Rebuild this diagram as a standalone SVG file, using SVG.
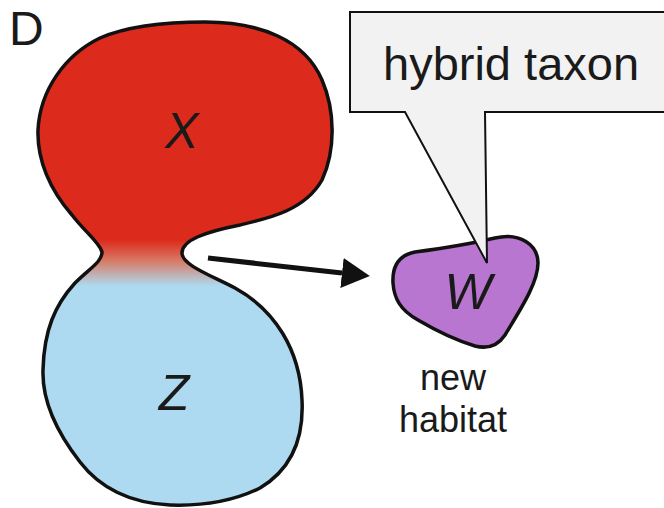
<svg xmlns="http://www.w3.org/2000/svg" width="664" height="508" viewBox="0 0 664 508">
<style>
.outline{stroke:#111;stroke-width:3.5;stroke-linejoin:round}
.lbl{font-family:"Liberation Sans",Arial,sans-serif;fill:#1a1a1a}
.it{font-style:italic;font-size:50px;text-anchor:middle}
</style>
<defs>
<linearGradient id="xz" gradientUnits="userSpaceOnUse" x1="0" y1="240" x2="0" y2="286">
<stop offset="0" stop-color="#DC2A1C"/>
<stop offset="0.45" stop-color="#D77A65"/>
<stop offset="0.8" stop-color="#BDB8BE"/>
<stop offset="1" stop-color="#ADDAF0"/>
</linearGradient>
<marker id="ah" markerUnits="userSpaceOnUse" markerWidth="30" markerHeight="32" viewBox="0 -16 30 32" refX="0" refY="0" orient="auto">
<path d="M0,-15 L28,0 L0,15 Z" fill="#111"/>
</marker>
</defs>
<text class="lbl" x="9" y="45" font-size="48">D</text>
<g id="node-xz">
<path class="outline" fill="url(#xz)" d="M 102 252 C 100 243, 85 232, 72 215 C 50 190, 37 160, 38 130 C 40 90, 65 55, 100 38 C 130 25, 170 22, 205 22 C 260 22, 305 40, 322 80 C 335 110, 336 150, 322 180 C 305 210, 270 218, 240 225 C 205 232, 182 240, 182 253 C 182 265, 210 275, 235 288 C 275 310, 300 350, 302 400 C 304 440, 290 470, 260 488 C 230 503, 200 506, 170 505 C 130 503, 100 488, 80 462 C 55 430, 42 400, 43 370 C 44 330, 55 305, 75 283 C 90 268, 102 262, 102 252 Z"/>
<text class="lbl it" x="182" y="148">X</text>
<text class="lbl it" x="174" y="410">Z</text>
</g>
<g id="node-w">
<path class="outline" fill="#B876D0" d="M 393 283 C 392 265, 400 255, 415 252 C 445 248, 470 244, 495 238 C 520 232, 538 245, 538 263 C 538 283, 520 310, 505 335 C 497 347, 487 349, 475 346 C 455 340, 435 330, 418 320 C 400 310, 394 298, 393 283 Z"/>
<text class="lbl it" x="468" y="309">W</text>
<text class="lbl" x="453" y="390" font-size="36" text-anchor="middle">new</text>
<text class="lbl" x="453" y="432" font-size="36" text-anchor="middle">habitat</text>
</g>
<g id="node-callout">
<path d="M 350 12 H 670 V 112 H 485 L 487 263 L 405 112 H 350 Z" fill="#F2F2F2" stroke="#111" stroke-width="2" stroke-linejoin="miter"/>
<text class="lbl" x="383" y="80" font-size="47">hybrid taxon</text>
</g>
<g id="connectors">
<line x1="208" y1="258" x2="342" y2="273" stroke="#111" stroke-width="5" marker-end="url(#ah)"/>
</g>
</svg>
